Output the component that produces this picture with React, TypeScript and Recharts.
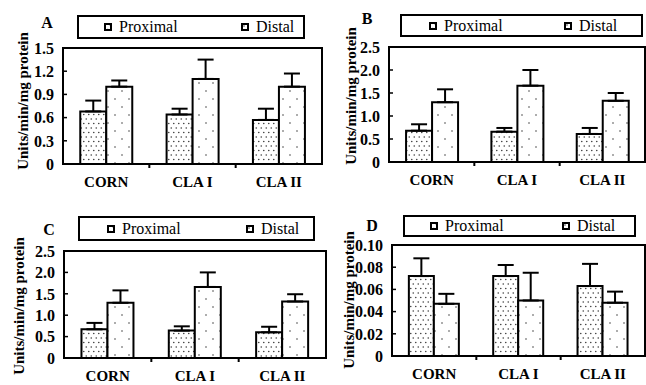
import { BarChart, Bar, XAxis, YAxis, ErrorBar, Legend, Label, ReferenceArea } from 'recharts';

const FONT = '"Liberation Serif", "Times New Roman", serif';

const categories = ['CORN', 'CLA I', 'CLA II'];

// panel A
const proximalA = [0.68, 0.64, 0.57];
const proximalErrA = [0.14, 0.075, 0.145];
const distalA = [1.0, 1.1, 1.0];
const distalErrA = [0.08, 0.25, 0.17];
const ticksA = [0, 0.3, 0.6, 0.9, 1.2, 1.5];
const tickLabelsA = ['0', '0.3', '0.6', '0.9', '1.2', '1.5'];

// panel B
const proximalB = [0.68, 0.66, 0.61];
const proximalErrB = [0.14, 0.08, 0.13];
const distalB = [1.3, 1.66, 1.33];
const distalErrB = [0.28, 0.34, 0.17];
const ticksB = [0, 0.5, 1.0, 1.5, 2.0, 2.5];
const tickLabelsB = ['0', '0.5', '1.0', '1.5', '2.0', '2.5'];

// panel C
const proximalC = [0.67, 0.64, 0.6];
const proximalErrC = [0.15, 0.1, 0.13];
const distalC = [1.29, 1.66, 1.32];
const distalErrC = [0.29, 0.34, 0.17];
const ticksC = [0, 0.5, 1.0, 1.5, 2.0, 2.5];
const tickLabelsC = ['0', '0.5', '1.0', '1.5', '2.0', '2.5'];

// panel D
const proximalD = [0.072, 0.072, 0.063];
const proximalErrD = [0.016, 0.01, 0.02];
const distalD = [0.047, 0.05, 0.048];
const distalErrD = [0.009, 0.025, 0.01];
const ticksD = [0, 0.02, 0.04, 0.06, 0.08, 0.1];
const tickLabelsD = ['0', '0.02', '0.04', '0.06', '0.08', '0.10'];

const makeRows = (prox: number[], proxErr: number[], dist: number[], distErr: number[]) =>
  categories.map((name, i) => ({
    name,
    proximal: prox[i],
    proximalErr: [0, proxErr[i]],
    distal: dist[i],
    distalErr: [0, distErr[i]],
  }));

const panels = [
  {
    id: 'A', left: 0, top: 0, width: 323, height: 192, yw: 63, mt: 48, xh: 28,
    letter: [47, 22], title: [23, 101], legend: { x: 77, y: 15, w: 228, h: 24, i1: 25, i2: 162 },
    data: makeRows(proximalA, proximalErrA, distalA, distalErrA), ticks: ticksA, labels: tickLabelsA,
  },
  {
    id: 'B', left: 323, top: 0, width: 323, height: 192, yw: 66, mt: 47, xh: 30,
    letter: [44, 18], title: [28, 96], legend: { x: 77, y: 14, w: 243, h: 23, i1: 27, i2: 162 },
    data: makeRows(proximalB, proximalErrB, distalB, distalErrB), ticks: ticksB, labels: tickLabelsB,
  },
  {
    id: 'C', left: 0, top: 192, width: 327, height: 193, yw: 64, mt: 59, xh: 27,
    letter: [49, 37], title: [19, 114], legend: { x: 78, y: 24, w: 237, h: 25, i1: 27, i2: 166 },
    data: makeRows(proximalC, proximalErrC, distalC, distalErrC), ticks: ticksC, labels: tickLabelsC,
  },
  {
    id: 'D', left: 327, top: 192, width: 319, height: 193, yw: 65, mt: 53, xh: 29,
    letter: [45, 33], title: [22, 108], legend: { x: 76, y: 23, w: 233, h: 22, i1: 25, i2: 157 },
    data: makeRows(proximalD, proximalErrD, distalD, distalErrD), ticks: ticksD, labels: tickLabelsD,
  },
];

const YTick = ({ x, y, payload, ticks, labels, gap }: any) => {
  const i = ticks.indexOf(payload.value);
  return (
    <g>
      <text x={x} y={y} dy="0.36em" textAnchor="end" fontFamily={FONT} fontWeight="bold" fontSize={16} fill="#000">
        {i >= 0 ? labels[i] : payload.value}
      </text>
      <line x1={x + gap} x2={x + gap + 4} y1={y} y2={y} stroke="#000" strokeWidth={1.5} />
    </g>
  );
};

const CatTick = ({ x, y, payload, index, gap, half }: any) => (
  <g>
    <text x={x} y={y} dy="0.71em" textAnchor="middle" fontFamily={FONT} fontWeight="bold" fontSize={15} fill="#000">
      {payload.value}
    </text>
    {index > 0 && (
      <line x1={x - half} x2={x - half} y1={y - gap} y2={y - gap + 4} stroke="#000" strokeWidth={2} />
    )}
  </g>
);

const YTitle = ({ tx, ty }: any) => (
  <text
    transform={`translate(${tx},${ty}) rotate(-90)`}
    textAnchor="middle"
    dominantBaseline="central"
    fontFamily={FONT}
    fontWeight="bold"
    fontSize={15}
    fill="#000"
  >
    Units/min/mg protein
  </text>
);

const LegendBox = ({ id, i1, i2 }: any) => {
  const items = [
    { name: 'Proximal', left: i1, fill: `url(#prox-${id})` },
    { name: 'Distal', left: i2, fill: `url(#dist-${id})` },
  ];
  return (
    <div
      style={{
        position: 'relative', width: '100%', height: '100%', border: '2px solid #000',
        boxSizing: 'border-box', background: '#fff', fontFamily: FONT, fontSize: 16, color: '#000',
      }}
    >
      {items.map((it) => (
        <div
          key={it.name}
          style={{
            position: 'absolute', left: it.left, top: '50%', transform: 'translateY(-50%)',
            display: 'flex', alignItems: 'center', lineHeight: 1,
          }}
        >
          <svg width={8} height={8} style={{ display: 'block' }}>
            <rect x={1} y={1} width={6} height={6} fill={it.fill} stroke="#000" strokeWidth={2} />
          </svg>
          <span style={{ marginLeft: 7 }}>{it.name}</span>
        </div>
      ))}
    </div>
  );
};

function Panel({ p }: any) {
  const plotW = p.width - 1 - p.yw;
  const half = plotW / 6;
  const axisLine = { stroke: '#000', strokeWidth: 2 };
  const yMax = p.ticks[p.ticks.length - 1];
  return (
    <div style={{ position: 'absolute', left: p.left, top: p.top }}>
      <BarChart
        width={p.width}
        height={p.height}
        data={p.data}
        margin={{ top: p.mt, right: 1, bottom: 0, left: 0 }}
        barCategoryGap="20%"
        barGap={0}
      >
        <defs>
          <pattern id={`prox-${p.id}`} width={5} height={9} patternUnits="userSpaceOnUse">
            <rect width={5} height={9} fill="#fff" />
            <circle cx={1.25} cy={2} r={0.8} fill="#444" />
            <circle cx={3.75} cy={6.5} r={0.8} fill="#444" />
          </pattern>
          <pattern id={`dist-${p.id}`} width={14} height={16} patternUnits="userSpaceOnUse">
            <rect width={14} height={16} fill="#fff" />
            <circle cx={3} cy={3} r={0.8} fill="#444" />
            <circle cx={10} cy={11} r={0.8} fill="#444" />
          </pattern>
        </defs>
        <text
          x={p.letter[0]}
          y={p.letter[1]}
          textAnchor="middle"
          dominantBaseline="central"
          fontFamily={FONT}
          fontWeight="bold"
          fontSize={16}
          fill="#000"
        >
          {p.id}
        </text>
        <XAxis
          dataKey="name"
          height={p.xh}
          interval={0}
          tickLine={false}
          tickSize={0}
          tickMargin={12}
          axisLine={axisLine}
          tick={<CatTick gap={12} half={half} />}
        />
        <YAxis
          width={p.yw}
          type="number"
          domain={[0, yMax]}
          ticks={p.ticks}
          interval={0}
          tickLine={false}
          tickSize={0}
          tickMargin={9}
          axisLine={axisLine}
          tick={<YTick ticks={p.ticks} labels={p.labels} gap={9} />}
        >
          <Label content={<YTitle tx={p.title[0]} ty={p.title[1]} />} />
        </YAxis>
        <ReferenceArea y1={0} y2={yMax} fill="none" stroke="#000" strokeWidth={2} ifOverflow="visible" />
        <Legend
          verticalAlign="middle"
          align="center"
          layout="horizontal"
          wrapperStyle={{ position: 'absolute', left: p.legend.x, top: p.legend.y, width: p.legend.w, height: p.legend.h }}
          content={<LegendBox id={p.id} i1={p.legend.i1} i2={p.legend.i2} />}
        />
        <Bar dataKey="proximal" name="Proximal" fill={`url(#prox-${p.id})`} stroke="#000" strokeWidth={2} isAnimationActive={false}>
          <ErrorBar dataKey="proximalErr" direction="y" width={8} stroke="#000" strokeWidth={2} />
        </Bar>
        <Bar dataKey="distal" name="Distal" fill={`url(#dist-${p.id})`} stroke="#000" strokeWidth={2} isAnimationActive={false}>
          <ErrorBar dataKey="distalErr" direction="y" width={8} stroke="#000" strokeWidth={2} />
        </Bar>
      </BarChart>
    </div>
  );
}

export default function App() {
  return (
    <div style={{ position: 'absolute', left: 0, top: 0, width: 646, height: 385, background: '#fff', overflow: 'hidden' }}>
      {panels.map((p) => (
        <Panel key={p.id} p={p} />
      ))}
    </div>
  );
}
